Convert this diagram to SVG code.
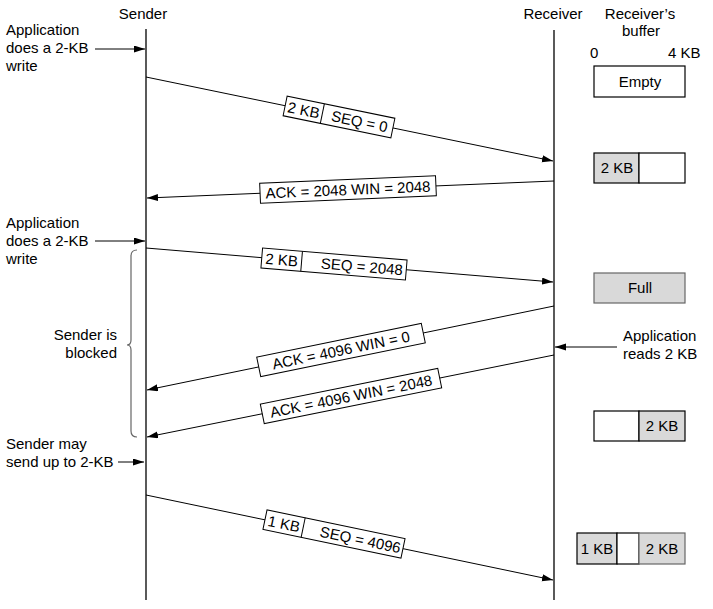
<svg xmlns="http://www.w3.org/2000/svg" width="713" height="609" viewBox="0 0 713 609">
<defs>
<marker id="ah" markerUnits="userSpaceOnUse" markerWidth="12" markerHeight="8" refX="11" refY="3.5" orient="auto">
<path d="M0,0 L11,3.5 L0,7 z" fill="#000"/>
</marker>
</defs>
<style>
text{font-family:"Liberation Sans",Arial,sans-serif;font-size:15px;fill:#000}
.m{text-anchor:middle}
.e{text-anchor:end}
.tl{stroke:#000;stroke-width:1.3;fill:none}
.c{stroke:#000;stroke-width:1;fill:none;marker-end:url(#ah)}
.lb{fill:#fff;stroke:#000;stroke-width:1}
.bx{fill:#fff;stroke:#000;stroke-width:1.2}
.g{fill:#d9d9d9;stroke:#000;stroke-width:1.2}
.gg{fill:#d9d9d9;stroke:#666;stroke-width:1.2}
</style>
<rect width="713" height="609" fill="#fff"/>

<g id="headers">
<text class="m" x="143" y="19">Sender</text>
<text class="m" x="553" y="19">Receiver</text>
<text class="m" x="640" y="19">Receiver’s</text>
<text class="m" x="641" y="36">buffer</text>
<text x="590" y="58">0</text>
<text x="668" y="58">4 KB</text>
</g>

<g id="timelines">
<line class="tl" x1="146" y1="29" x2="146" y2="600"/>
<line class="tl" x1="554" y1="30" x2="554" y2="600"/>
</g>

<g id="connectors">
<line class="c" x1="146" y1="77" x2="553" y2="161"/>
<line class="c" x1="554" y1="181" x2="147" y2="198"/>
<line class="c" x1="146" y1="248" x2="553" y2="282"/>
<line class="c" x1="554" y1="306" x2="147" y2="390"/>
<line class="c" x1="554" y1="355" x2="147" y2="437"/>
<line class="c" x1="146" y1="495" x2="553" y2="580"/>
<line class="c" x1="95" y1="49" x2="145" y2="49"/>
<line class="c" x1="95" y1="241" x2="145" y2="241"/>
<line class="c" x1="118" y1="462" x2="144" y2="462"/>
<line class="c" x1="617" y1="347" x2="555" y2="347"/>
<path d="M137,250 Q131,250 131,256 L131,340 Q131,345 127,345 Q131,345 131,350 L131,431 Q131,437 137,437" fill="none" stroke="#666" stroke-width="1.2"/>
</g>

<g id="seg1" transform="translate(339,117) rotate(11.6)">
<rect class="lb" x="-55" y="-10" width="110" height="20"/>
<line x1="-17" y1="-10" x2="-17" y2="10" stroke="#000" stroke-width="1"/>
<text class="m" x="-36" y="5.5">2 KB</text>
<text class="m" x="21" y="5.5">SEQ = 0</text>
</g>
<g id="ack1" transform="translate(348,189.5) rotate(-2.4)">
<rect class="lb" x="-88" y="-10" width="176" height="20"/>
<text class="m" x="0" y="5.5">ACK = 2048 WIN = 2048</text>
</g>
<g id="seg2" transform="translate(334,264) rotate(4.76)">
<rect class="lb" x="-72.5" y="-10" width="145" height="20"/>
<line x1="-32.5" y1="-10" x2="-32.5" y2="10" stroke="#000" stroke-width="1"/>
<text class="m" x="-52.5" y="5.5">2 KB</text>
<text class="m" x="28" y="5.5">SEQ = 2048</text>
</g>
<g id="ack2" transform="translate(341,350) rotate(-11.6)">
<rect class="lb" x="-84" y="-10" width="168" height="20"/>
<text class="m" x="0" y="5.5">ACK = 4096 WIN = 0</text>
</g>
<g id="ack3" transform="translate(351,396) rotate(-11.4)">
<rect class="lb" x="-90.5" y="-10" width="181" height="20"/>
<text class="m" x="0" y="5.5">ACK = 4096 WIN = 2048</text>
</g>
<g id="seg3" transform="translate(334,534) rotate(11.8)">
<rect class="lb" x="-70.5" y="-10" width="141" height="20"/>
<line x1="-31.5" y1="-10" x2="-31.5" y2="10" stroke="#000" stroke-width="1"/>
<text class="m" x="-51" y="5.5">1 KB</text>
<text class="m" x="27" y="5.5">SEQ = 4096</text>
</g>

<g id="note-write1">
<text x="6" y="35">Application</text>
<text x="6" y="53">does a 2-KB</text>
<text x="6" y="71">write</text>
</g>
<g id="note-write2">
<text x="6" y="228">Application</text>
<text x="6" y="246">does a 2-KB</text>
<text x="6" y="264">write</text>
</g>
<g id="note-blocked">
<text class="e" x="117" y="340">Sender is</text>
<text class="e" x="117" y="358">blocked</text>
</g>
<g id="note-may">
<text x="6" y="449">Sender may</text>
<text x="6" y="467">send up to 2-KB</text>
</g>
<g id="note-read">
<text x="623" y="341">Application</text>
<text x="623" y="359">reads 2 KB</text>
</g>

<g id="buf1">
<rect class="bx" x="594" y="66" width="91" height="31"/>
<text class="m" x="640" y="87">Empty</text>
</g>
<g id="buf2">
<rect class="g" x="594" y="153" width="45" height="30"/>
<rect class="bx" x="639" y="153" width="46" height="30"/>
<text class="m" x="617" y="173">2 KB</text>
</g>
<g id="buf3">
<rect class="gg" x="594" y="273" width="91" height="30"/>
<text class="m" x="640" y="293">Full</text>
</g>
<g id="buf4">
<rect class="bx" x="594" y="411" width="45" height="30"/>
<rect class="g" x="639" y="411" width="46" height="30"/>
<text class="m" x="662" y="431">2 KB</text>
</g>
<g id="buf5">
<rect class="g" x="577" y="533" width="40" height="31"/>
<rect class="bx" x="617" y="533" width="22" height="31"/>
<rect class="gg" x="639" y="533" width="46" height="31"/>
<text class="m" x="597" y="554">1 KB</text>
<text class="m" x="662" y="554">2 KB</text>
</g>
</svg>
